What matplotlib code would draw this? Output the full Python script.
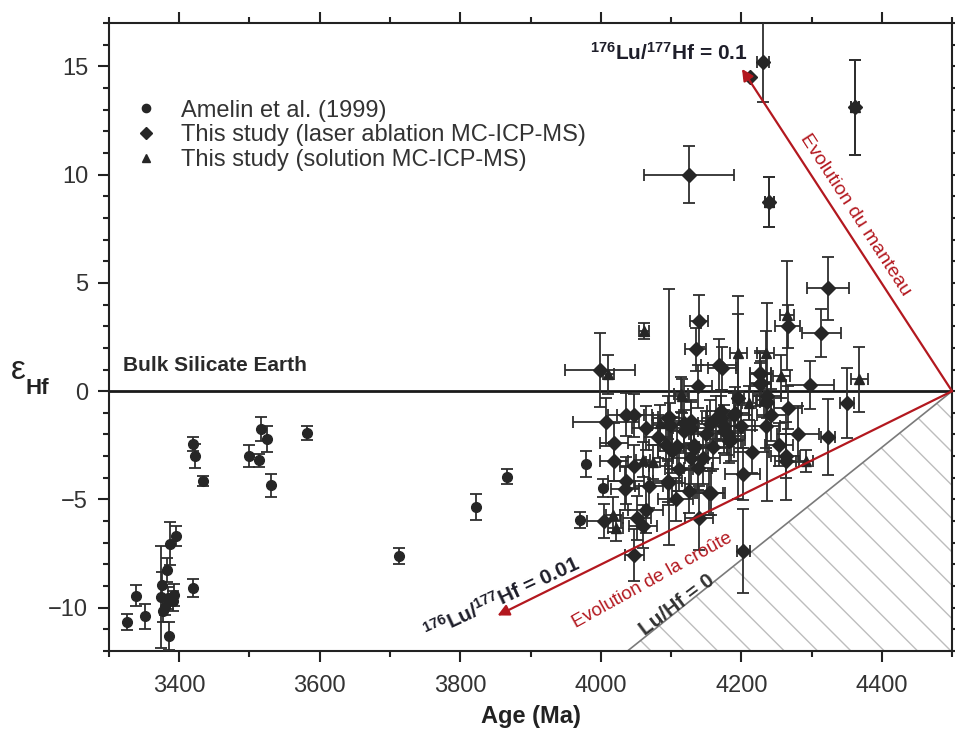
import matplotlib
matplotlib.use('Agg')
import matplotlib.pyplot as plt
from matplotlib.ticker import MultipleLocator

plt.rcParams['font.family'] = ['Liberation Sans', 'DejaVu Sans']
plt.rcParams['mathtext.fontset'] = 'custom'
plt.rcParams['mathtext.rm'] = 'Liberation Sans'
plt.rcParams['mathtext.bf'] = 'Liberation Sans:bold'
plt.rcParams['mathtext.it'] = 'Liberation Sans:italic'
plt.rcParams['hatch.linewidth'] = 1.0

# Amelin et al. (1999) - circles: age, eHf, yerr
amelin_age = [3326, 3339, 3351, 3374, 3376, 3377, 3380, 3382, 3384, 3386,
              3387, 3391, 3393, 3395, 3420, 3420, 3422, 3434, 3500, 3514,
              3517, 3525, 3530, 3582, 3713, 3822, 3866, 3971, 3979, 4003]
amelin_ehf = [-10.65, -9.45, -10.4, -9.5, -8.95, -10.15, -9.95, -8.25, -9.55, -11.3,
              -7.05, -9.7, -9.4, -6.7, -9.1, -2.45, -3.0, -4.15, -3.0, -3.2,
              -1.75, -2.2, -4.35, -1.95, -7.6, -5.35, -3.95, -5.95, -3.35, -4.47]
amelin_yerr = [0.37, 0.48, 0.58, 2.35, 0.6, 0.5, 0.4, 0.55, 0.5, 0.65,
               1.0, 0.45, 0.5, 0.46, 0.42, 0.32, 0.55, 0.25, 0.5, 0.28,
               0.57, 0.6, 0.53, 0.32, 0.38, 0.58, 0.35, 0.37, 0.6, 0.4]

# This study, laser ablation - diamonds
la_age = [4231, 4212, 4125, 4324, 4314, 4140, 4266, 4298, 4350, 4323,
          4281, 4267, 4263, 4254, 4202, 4203, 4235, 4228, 4227, 4191,
          4180, 4185, 4171, 4168, 4173, 4138, 4236, 4196, 4097, 3999,
          4007, 4019, 4019, 4036, 4048, 4064, 4036, 4034, 4048, 4051,
          4060, 4048, 4064, 4069, 4005, 4095, 4107, 4126, 4133, 4119,
          4128, 4098, 4102, 4138, 4157, 4140, 4171, 4175, 4190, 4227,
          4237, 4095, 4119, 4128, 4164, 4176, 4199, 4109, 4133, 4128,
          4093, 4183, 4263, 4095, 4154, 4135, 4227, 4362, 4240,
          4150, 4160, 4145, 4112, 4155, 4082, 4243, 4215]
la_ehf = [15.2, 14.5, 10.0, 4.75, 2.7, 3.25, 3.0, 0.28, -0.54, -2.13,
          -1.97, -0.77, -3.24, -2.47, -3.82, -7.37, -1.62, 0.38, 0.85, -1.0,
          -1.93, -2.24, -1.23, 1.23, 1.05, 0.23, -0.49, -0.3, -1.2, 0.97,
          -1.42, -2.39, -3.24, -1.08, -1.11, -1.7, -4.13, -4.5, -3.47, -5.86,
          -6.24, -7.55, -5.47, -4.39, -6.0, -4.13, -5.0, -4.62, -2.62, -1.85,
          -1.39, -1.54, -2.78, -3.55, -4.7, -5.86, -0.93, -1.85, -1.08, 0.31,
          -0.23, -1.23, -1.46, -1.7, -1.23, -1.62, -1.62, -2.54, -2.47, -3.08,
          -2.47, -2.31, -3.0, -4.24, -4.7, 1.93, 0.77, 13.1, 8.75,
          -2.0, -2.6, -3.1, -3.6, -1.5, -2.1, -1.1, -2.8]
la_xerr = [8, 0, 64, 30, 28, 13, 18, 34, 10, 10,
           30, 20, 15, 20, 25, 9, 20, 15, 15, 20,
           25, 20, 20, 25, 20, 20, 10, 8, 15, 50,
           47, 20, 20, 25, 25, 20, 25, 20, 20, 20,
           20, 14, 25, 20, 24, 20, 25, 25, 20, 20,
           25, 25, 20, 20, 20, 20, 20, 20, 25, 15,
           20, 20, 20, 25, 20, 25, 20, 25, 25, 25,
           25, 20, 20, 25, 20, 15, 15, 6, 6,
           25, 20, 25, 20, 25, 20, 20, 25]
la_yerr = [1.85, 0.0, 1.3, 1.45, 1.1, 1.2, 1.0, 1.1, 1.6, 1.75,
           1.3, 1.0, 1.8, 1.0, 1.2, 1.95, 1.0, 1.0, 1.0, 1.2,
           1.0, 1.0, 1.0, 1.2, 1.0, 1.0, 4.57, 4.7, 5.9, 1.7,
           1.1, 0.9, 0.9, 1.0, 1.0, 1.0, 1.1, 1.0, 1.0, 1.0,
           1.0, 1.2, 1.1, 1.0, 0.8, 1.0, 1.0, 1.0, 1.0, 1.0,
           1.0, 1.0, 1.0, 1.0, 1.0, 1.47, 1.0, 1.0, 1.0, 1.0,
           1.0, 1.0, 1.0, 1.2, 1.0, 1.0, 1.0, 1.0, 1.0, 1.2,
           1.0, 1.0, 1.0, 1.0, 1.0, 1.0, 1.0, 2.2, 1.15,
           1.1, 1.0, 1.2, 1.0, 1.1, 1.0, 1.2, 1.0]

# This study, solution - triangles
sol_age = [4011, 4061, 4085, 4114, 4060, 4074, 4017, 4021, 4196, 4235,
           4257, 4265, 4368, 4232, 4211, 4292, 4116, 4362, 4240]
sol_ehf = [0.77, 2.78, -1.46, -0.15, -3.16, -3.27, -5.7, -6.32, 1.77, 1.77,
           0.69, 3.5, 0.54, -0.39, -0.54, -3.21, -0.23, 13.1, 8.75]
sol_xerr = [8, 7, 10, 10, 10, 10, 10, 10, 12, 12,
            12, 10, 12, 10, 10, 10, 10, 6, 6]
sol_yerr = [0.9, 0.36, 0.8, 0.8, 0.8, 0.8, 0.8, 0.6, 1.8, 1.0,
            1.0, 2.5, 1.5, 0.8, 0.8, 0.5, 0.8, 2.2, 1.15]

# Reference evolution lines, all from the 4500 Ma origin
origin = (4500, 0)
mantle_end = (4201, 14.88)      # 176Lu/177Hf = 0.1
crust_end = (3853, -10.36)      # 176Lu/177Hf = 0.01
luhf0_end = (4038, -12)         # Lu/Hf = 0

red = '#b3181f'
dark = '#262626'

fig = plt.figure(figsize=(9.55, 7.31), dpi=100)
ax = fig.add_axes([0.1141, 0.1094, 0.8828, 0.8591])

# hatched forbidden region below Lu/Hf = 0
ax.fill([luhf0_end[0], origin[0], origin[0]], [luhf0_end[1], origin[1], -12],
        facecolor='none', edgecolor='#bdbdbd', hatch='\\', linewidth=0, zorder=1)
ax.plot([luhf0_end[0], origin[0]], [luhf0_end[1], origin[1]], color='#7a7a7a', lw=1.2, zorder=2)

# Bulk silicate earth
ax.axhline(0, color='#1a1a1a', lw=2, zorder=2)

# error bars
ekw = dict(fmt='none', ecolor='#2e2e2e', elinewidth=1.3, capsize=4.5, capthick=1.3, zorder=3)
ax.errorbar(amelin_age, amelin_ehf, yerr=amelin_yerr, **ekw)
ax.errorbar(la_age, la_ehf, xerr=la_xerr, yerr=la_yerr, **ekw)
ax.errorbar(sol_age, sol_ehf, xerr=sol_xerr, yerr=sol_yerr, **ekw)

ax.plot(amelin_age, amelin_ehf, 'o', ms=7, color=dark, ls='none', zorder=4, label='Amelin et al. (1999)')
ax.plot(la_age, la_ehf, 'D', ms=7, color=dark, ls='none', zorder=4,
        label='This study (laser ablation MC-ICP-MS)')
ax.plot(sol_age, sol_ehf, '^', ms=7.5, color=dark, ls='none', zorder=4,
        label='This study (solution MC-ICP-MS)')

# evolution arrows
for end in (mantle_end, crust_end):
    ax.annotate('', xy=end, xytext=origin,
                arrowprops=dict(arrowstyle='-|>', color=red, lw=1.6, mutation_scale=17,
                                shrinkA=0, shrinkB=0), zorder=5)

ax.text(4210, 15.6, r'$^{\mathbf{176}}$Lu/$^{\mathbf{177}}$Hf = 0.1', fontsize=15,
        fontweight='bold', color='#1e1e2a', ha='right', va='center')
ax.text(3860, -9.55, r'$^{\mathbf{176}}$Lu/$^{\mathbf{177}}$Hf = 0.01', fontsize=15,
        fontweight='bold', color='#1e1e2a', ha='center', va='center',
        rotation=25, rotation_mode='anchor')
ax.text(4074, -8.75, 'Evolution de la croûte', fontsize=13.5, color=red,
        ha='center', va='center', rotation=29, rotation_mode='anchor')
ax.text(4108, -9.85, 'Lu/Hf = 0', fontsize=15, fontweight='bold', color='#333333',
        ha='center', va='center', rotation=37, rotation_mode='anchor')
ax.text(4362, 8.16, 'Evolution du manteau', fontsize=14, color=red,
        ha='center', va='center', rotation=-57, rotation_mode='anchor')
ax.text(3320, 1.2, 'Bulk Silicate Earth', fontsize=15, fontweight='bold',
        color='#2a2a2a', ha='left', va='center')

ax.set_xlim(3300, 4500)
ax.set_ylim(-12, 17)
ax.xaxis.set_major_locator(MultipleLocator(200))
ax.xaxis.set_minor_locator(MultipleLocator(100))
ax.yaxis.set_major_locator(MultipleLocator(5))
ax.yaxis.set_minor_locator(MultipleLocator(1))
ax.tick_params(which='both', direction='out', top=True, right=True, width=1.5,
               colors='#222222', labelsize=17, labelcolor='#333333')
ax.tick_params(which='major', length=8)
ax.tick_params(axis='x', which='major', pad=9)
ax.tick_params(axis='y', which='major', pad=7)
ax.tick_params(which='minor', length=4)
for s in ax.spines.values():
    s.set_linewidth(1.5)
    s.set_color('#222222')

ax.set_xlabel('Age (Ma)', fontsize=17, fontweight='bold', color='#222222', labelpad=6)
fig.text(0.0194, 0.4938, 'ε', fontsize=24, color='#222222', ha='center', va='center')
fig.text(0.0262, 0.4692, 'Hf', fontsize=16, fontweight='bold', color='#222222',
         ha='left', va='center')

ax.legend(loc='upper left', bbox_to_anchor=(0.03, 0.878), frameon=False, fontsize=17,
          handlelength=1.0, handletextpad=1.0, labelspacing=0.12, borderpad=0,
          borderaxespad=0, markerscale=0.85, labelcolor='#333333')

fig.savefig('out.png', dpi=100)
